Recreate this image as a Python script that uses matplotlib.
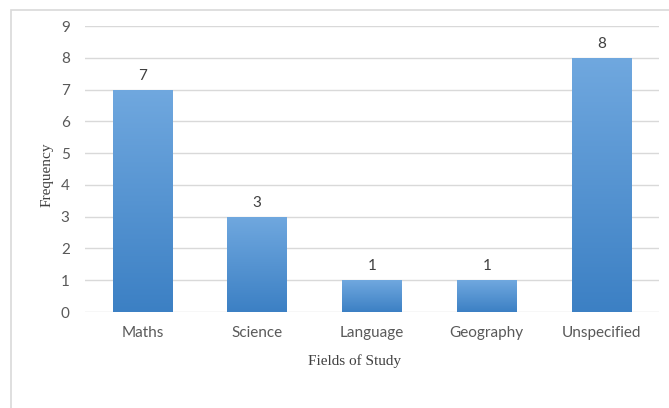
import matplotlib.pyplot as plt
import matplotlib.colors as mcolors
import numpy as np
from matplotlib.patches import Rectangle

# ---------- Data ----------
fields = ["Maths", "Science", "Language", "Geography", "Unspecified"]
frequency = [7, 3, 1, 1, 8]

# ---------- Style ----------
TICK_FONT = "Lato"
LABEL_FONT = "Liberation Serif"
TEXT_GREY = "#595959"
GRID_GREY = "#d9d9d9"
BAR_TOP = "#70a8df"
BAR_BOTTOM = "#3c80c4"

W, H = 669, 408
fig = plt.figure(figsize=(W / 100, H / 100), dpi=100)
fig.patch.set_facecolor("white")

# light outline round the chart area
fig.patches.append(Rectangle((11 / W, -0.05), 1.0, 1.05 - 10 / H,
                             transform=fig.transFigure, fill=False,
                             edgecolor=GRID_GREY, lw=1.2))

ax = fig.add_axes([85 / W, 96 / H, 574 / W, 286 / H])

x = np.arange(len(fields))
bars = ax.bar(x, frequency, width=0.52, color="none", zorder=3)

# vertical gradient fill, clipped to each bar
grad = np.linspace(0, 1, 256).reshape(-1, 1)
cmap = mcolors.LinearSegmentedColormap.from_list("bar", [BAR_BOTTOM, BAR_TOP])
for bar in bars:
    x0, w, h = bar.get_x(), bar.get_width(), bar.get_height()
    im = ax.imshow(grad, extent=(x0, x0 + w, 0, h), origin="lower",
                   cmap=cmap, aspect="auto", zorder=3)
    im.set_clip_path(bar)

for xi, val in zip(x, frequency):
    ax.annotate(str(val), (xi, val), xytext=(0, 5), textcoords="offset points",
                ha="center", va="bottom", fontsize=11, color="#404040",
                family=TICK_FONT)

ax.set_xlim(-0.5, len(fields) - 0.5)
ax.set_ylim(0, 9)
ax.set_yticks(range(10))
ax.set_xticks(x)
ax.set_xticklabels(fields)
ax.grid(axis="y", color=GRID_GREY, lw=1, zorder=0)
for s in ax.spines.values():
    s.set_visible(False)
ax.tick_params(length=0, labelsize=11, labelcolor=TEXT_GREY)
ax.tick_params(axis="y", pad=11)
ax.tick_params(axis="x", pad=10)
for lbl in ax.get_xticklabels() + ax.get_yticklabels():
    lbl.set_family(TICK_FONT)

ax.set_xlabel("Fields of Study", family=LABEL_FONT, fontsize=11, color="#404040")
ax.set_ylabel("Frequency", family=LABEL_FONT, fontsize=11, color="#404040")
ax.xaxis.set_label_coords((354 - 85) / 574, -42 / 286)
ax.yaxis.set_label_coords(-31 / 574, (312 - 175) / 286)

fig.savefig("out.png", dpi=100)
